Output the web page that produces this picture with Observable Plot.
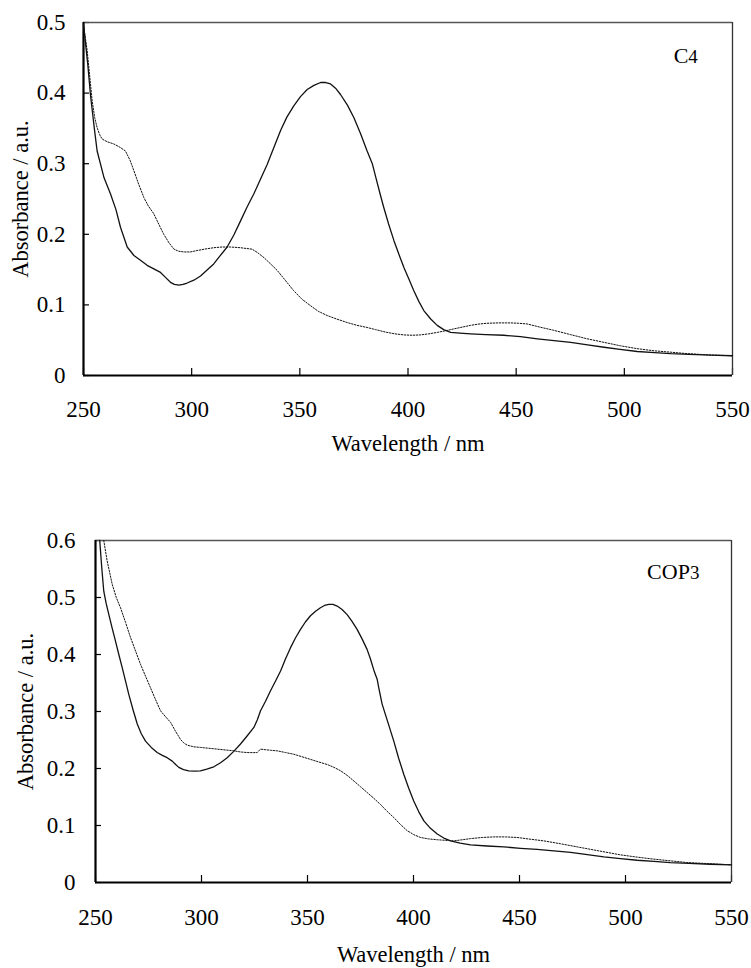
<!DOCTYPE html>
<html><head><meta charset="utf-8">
<script src="https://cdn.jsdelivr.net/npm/d3@7"></script>
<script src="https://cdn.jsdelivr.net/npm/@observablehq/plot@0.6"></script>
<style>body{margin:0;background:#fff;} #chart svg{display:block;}</style>
</head><body><div id="chart"></div>
<script>
const xTicks = [250, 300, 350, 400, 450, 500, 550];
const c4YTicks = [0, 0.1, 0.2, 0.3, 0.4, 0.5];
const cop3YTicks = [0, 0.1, 0.2, 0.3, 0.4, 0.5, 0.6];

// C4 panel — solid curve
const c4SolidWl = [250,252,253.2,255,256.3,259.5,262.5,265,267.1,270.2,273.3,276.5,279.4,282.5,285.6,287.9,290.2,292,294.1,296,297.9,301,304.1,307,310.2,313,316.4,319.5,322.6,325.5,328.7,331.8,334.9,338,341.1,344,347.2,350.3,353.4,356.5,359.6,362,364.2,366.5,368.8,372,375,378,381.1,383.5,385,387.3,388.8,391,393.5,396,398.1,400.5,402.7,405,407.3,410.5,413.5,416.5,419.7,424,428.9,436,444.3,452,459.8,467.5,475.2,483,490.6,498,506,514,521.4,530,540,550];
const c4SolidAbs = [0.497,0.44,0.398,0.35,0.318,0.28,0.257,0.235,0.21,0.182,0.170,0.163,0.156,0.151,0.146,0.139,0.132,0.129,0.128,0.129,0.131,0.135,0.141,0.149,0.158,0.169,0.182,0.199,0.219,0.238,0.257,0.278,0.299,0.323,0.347,0.366,0.382,0.395,0.405,0.411,0.415,0.415,0.413,0.407,0.398,0.383,0.365,0.343,0.318,0.30,0.282,0.255,0.238,0.215,0.191,0.170,0.153,0.136,0.120,0.105,0.092,0.080,0.071,0.065,0.061,0.060,0.059,0.058,0.057,0.055,0.052,0.0495,0.047,0.0435,0.040,0.037,0.034,0.0325,0.031,0.030,0.029,0.028];
// C4 panel — dotted curve
const c4DottedWl = [250,251.7,253,254,255.2,256.3,257.5,258.6,261,264,267,269.4,271.5,273.3,275.5,277.9,280,282.5,285,287.1,289.5,291.8,294,296.4,299.5,302.5,306,310.2,314,317.9,322.6,325,327.9,330.5,333.4,336.5,339.5,343.5,347.2,351,354.9,358.5,362.6,367,371.9,376.5,381.1,385,390.3,394,398.1,402,405.8,409.5,413.5,417.5,421.2,425,428.9,432.5,436.6,442,447.4,451,455.1,461,467.4,475,482.8,490.5,498.3,506,513.7,521.5,529.1,540,550];
const c4DottedAbs = [0.497,0.46,0.42,0.389,0.365,0.351,0.341,0.335,0.331,0.328,0.323,0.318,0.305,0.29,0.271,0.252,0.240,0.229,0.213,0.200,0.188,0.179,0.176,0.175,0.175,0.177,0.179,0.181,0.182,0.182,0.181,0.180,0.179,0.174,0.167,0.158,0.149,0.134,0.120,0.108,0.099,0.091,0.085,0.080,0.075,0.071,0.068,0.065,0.061,0.059,0.0575,0.057,0.0575,0.059,0.061,0.0635,0.066,0.0685,0.071,0.0728,0.074,0.0745,0.0745,0.074,0.073,0.0685,0.064,0.058,0.052,0.047,0.042,0.038,0.035,0.033,0.031,0.029,0.028];

// COP3 panel — solid curve
const cop3SolidWl = [252,253,253.9,255,256.3,257.8,259.4,261,262.6,264.2,265.7,267.7,269.7,271.6,273.6,276.3,279.1,281.5,283.8,286.2,287.8,289.3,291.5,294,296.8,299.5,302.5,305.8,309,312.1,315.2,318.4,321.5,324.7,326.3,327.8,330.2,332.5,335,337.3,339.6,342,344.3,346.7,349,351.4,353.8,356.1,358,360.1,362,364,366.3,368.7,371,373.4,375.8,378.1,379.7,381.5,382.9,383.6,385.2,388,390.7,393,395.4,397.8,400.1,402.5,404.9,408,411.2,414.3,417.5,422,426.9,434.7,442.6,450.5,458.3,466.2,474.1,482,489.8,497.6,505.5,513.4,521.2,530,540,550];
const cop3SolidAbs = [0.60,0.55,0.511,0.49,0.470,0.447,0.424,0.40,0.377,0.353,0.330,0.303,0.278,0.261,0.248,0.237,0.228,0.223,0.219,0.213,0.207,0.202,0.198,0.196,0.1955,0.196,0.199,0.203,0.210,0.219,0.230,0.243,0.257,0.272,0.285,0.301,0.318,0.336,0.354,0.371,0.392,0.412,0.429,0.444,0.457,0.468,0.476,0.482,0.486,0.488,0.488,0.485,0.479,0.470,0.458,0.444,0.427,0.409,0.392,0.370,0.356,0.342,0.313,0.28,0.248,0.218,0.190,0.165,0.143,0.124,0.108,0.095,0.085,0.078,0.073,0.069,0.066,0.064,0.0625,0.060,0.058,0.0555,0.053,0.049,0.045,0.042,0.039,0.037,0.035,0.0335,0.032,0.031];
// COP3 panel — dotted curve
const cop3DottedWl = [253.9,255.5,257.9,259.8,261.8,264.2,266.5,268.9,271.2,273.6,275.9,278.3,280.7,283,285.4,287.8,290.1,291.6,293.2,296.4,299.5,303.5,307.4,311.3,315.3,318.4,321.5,324,326.3,327.8,330,332.5,335.7,339.6,343.6,347.5,351.4,355.3,359.3,362.5,365.6,368.7,371.9,375,378.1,381.2,384.4,387.5,390.7,393.8,397,400.1,403.3,407,411.2,415,419,423,426.9,432.4,437.9,443.4,448.9,455,461.5,469.3,477.2,487.4,497.6,505.5,513.3,521.2,529,540,550];
const cop3DottedAbs = [0.60,0.564,0.523,0.50,0.482,0.456,0.430,0.406,0.383,0.362,0.342,0.321,0.301,0.291,0.281,0.265,0.251,0.245,0.241,0.238,0.237,0.2355,0.234,0.2325,0.231,0.229,0.228,0.2278,0.228,0.234,0.233,0.232,0.231,0.228,0.225,0.2205,0.216,0.2115,0.207,0.202,0.196,0.188,0.178,0.168,0.158,0.148,0.137,0.125,0.114,0.102,0.091,0.084,0.079,0.0765,0.075,0.074,0.073,0.075,0.077,0.079,0.080,0.080,0.079,0.076,0.073,0.068,0.0625,0.0555,0.0485,0.0445,0.041,0.038,0.035,0.033,0.031];

const toRows = (wl, ab) => wl.map((w, i) => ({wl: w, abs: ab[i]}));

function panel(cfg) {
  const W = 751;
  const innerH = cfg.height - cfg.marginTop - cfg.marginBottom;
  const innerW = W - cfg.marginLeft - cfg.marginRight;
  const ymax = cfg.yTicks[cfg.yTicks.length - 1];
  const svg = Plot.plot({
    width: W,
    height: cfg.height,
    marginTop: cfg.marginTop,
    marginBottom: cfg.marginBottom,
    marginLeft: cfg.marginLeft,
    marginRight: cfg.marginRight,
    style: {fontFamily: "'Liberation Serif', 'Times New Roman', serif", fontSize: "22px", color: "#000", background: "#fff"},
    x: {domain: [250, 550]},
    y: {domain: [0, ymax]},
    marks: [
      Plot.axisX({ticks: xTicks, tickSize: 0, tickPadding: cfg.xPad, tickFormat: d => String(d), fontSize: 23, label: null}),
      Plot.axisY({ticks: cfg.yTicks, tickSize: 0, tickPadding: cfg.yPad, tickFormat: d => String(d), fontSize: 23, label: null}),
      Plot.tickX(xTicks, {x: d => d, insetTop: innerH - 7, stroke: "#000", strokeWidth: 1.2}),
      Plot.tickY(cfg.yTicks, {y: d => d, insetRight: innerW - 6, stroke: "#000", strokeWidth: 1.2}),
      Plot.ruleY([ymax], {stroke: "#555", strokeWidth: 1.3}),
      Plot.ruleX([550], {stroke: "#333", strokeWidth: 1.3}),
      Plot.ruleX([250], {stroke: "#000", strokeWidth: 2.2}),
      Plot.ruleY([0], {stroke: "#000", strokeWidth: 2.2}),
      Plot.line(toRows(cfg.dottedWl, cfg.dottedAbs), {x: "wl", y: "abs", stroke: "#111", strokeWidth: 1, strokeDasharray: "1.5,1.5"}),
      Plot.line(toRows(cfg.solidWl, cfg.solidAbs), {x: "wl", y: "abs", stroke: "#111", strokeWidth: 1.3}),
      Plot.text([cfg.label], {x: cfg.labelX, y: cfg.labelY, text: d => d, textAnchor: "start", lineAnchor: "middle", fontSize: 22}),
      Plot.text(["Wavelength / nm"], {frameAnchor: "bottom", dy: cfg.xLabelDy, lineAnchor: "middle", text: d => d, fontSize: 22.5}),
      Plot.text(["Absorbance / a.u."], {frameAnchor: "left", rotate: -90, dx: cfg.yLabelDx, lineAnchor: "middle", textAnchor: "middle", text: d => d, fontSize: 22.5})
    ]
  });
  d3.select(svg).selectAll("text").filter(function () { return this.textContent === cfg.label; }).each(function () {
    const t = d3.select(this);
    t.text("");
    t.append("tspan").text(cfg.labelMain);
    t.append("tspan").attr("font-size", 19).text(cfg.labelSub);
  });
  return svg;
}

const chart = document.getElementById("chart");
chart.appendChild(panel({
  height: 470, marginTop: 22, marginBottom: 95, marginLeft: 83, marginRight: 19,
  yTicks: c4YTicks, xPad: 25, yPad: 18, xLabelDy: 68, yLabelDx: -63,
  solidWl: c4SolidWl, solidAbs: c4SolidAbs, dottedWl: c4DottedWl, dottedAbs: c4DottedAbs,
  label: "C4", labelMain: "C", labelSub: "4", labelX: 522.8, labelY: 0.453
}));
chart.appendChild(panel({
  height: 498, marginTop: 70, marginBottom: 86, marginLeft: 95, marginRight: 20,
  yTicks: cop3YTicks, xPad: 26, yPad: 20, xLabelDy: 72, yLabelDx: -69.5,
  solidWl: cop3SolidWl, solidAbs: cop3SolidAbs, dottedWl: cop3DottedWl, dottedAbs: cop3DottedAbs,
  label: "COP3", labelMain: "COP", labelSub: "3", labelX: 510.2, labelY: 0.545
}));
</script>
</body></html>
